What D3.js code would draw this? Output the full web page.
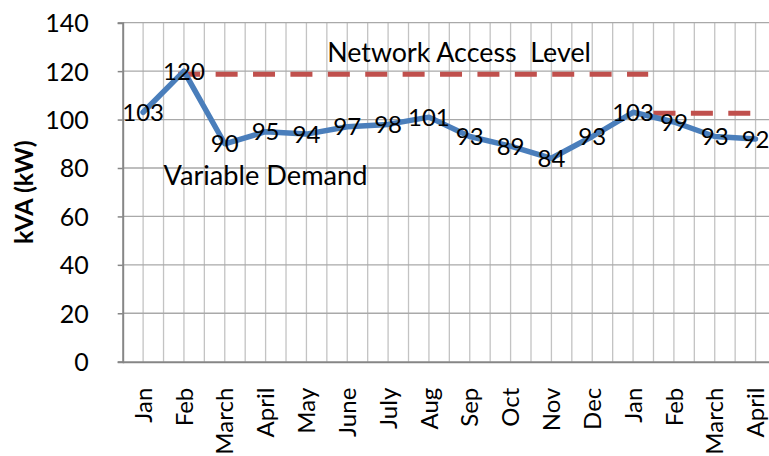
<!DOCTYPE html>
<html>
<head>
<meta charset="utf-8">
<script src="https://cdn.jsdelivr.net/npm/d3@7"></script>
<style>
  html, body { margin: 0; padding: 0; background: #fff; }
  svg { display: block; }
  text { font-family: Lato, "Open Sans", sans-serif; fill: #000; }
</style>
</head>
<body>
<svg id="chart" width="769" height="456"></svg>
<script>
// ---- data ----
const months = ["Jan","Feb","March","April","May","June","July","Aug","Sep","Oct","Nov","Dec","Jan","Feb","March","April"];
const demand = [103,120,90,95,94,97,98,101,93,89,84,93,103,99,93,92];
const yTicks = [0,20,40,60,80,100,120,140];
// Network access level segments (start/end in category-index units, value in kVA)
const accessStart = [0.86, 12.5];
const accessEnd   = [12.37, 14.88];
const accessValue = [118.7, 102.6];
const yTitle = "kVA (kW)";
const accessLabel = "Network Access  Level";
const demandLabel = "Variable Demand";

// ---- layout ----
const W = 769, H = 456;
const mLeft = 122.7, mTop = 22.7, mBottom = 361.7;
const step = 40.83;
const mRight = mLeft + months.length * step;

const svg = d3.select("#chart");

const idx = d3.range(months.length);
const xBand = d3.scaleBand().domain(idx).range([mLeft, mRight]).paddingInner(0).paddingOuter(0);
const xc = d3.scaleLinear().domain([-0.5, months.length - 0.5]).range([mLeft, mRight]);
const y = d3.scaleLinear().domain([0, 140]).range([mBottom, mTop]);

// vertical gridlines at every half category
const vGrid = d3.range(1, months.length * 2 + 1).map(k => -0.5 + k / 2);
svg.append("g").selectAll("line").data(vGrid).join("line")
  .attr("x1", d => xc(d)).attr("x2", d => xc(d))
  .attr("y1", mTop).attr("y2", mBottom)
  .attr("stroke", "#c3c3c3").attr("stroke-width", 1.3);

// horizontal gridlines
svg.append("g").selectAll("line").data(yTicks.filter(t => t > 0)).join("line")
  .attr("x1", mLeft).attr("x2", W)
  .attr("y1", d => y(d)).attr("y2", d => y(d))
  .attr("stroke", "#a9a9a9").attr("stroke-width", 1.3);

// y axis
const yAxis = svg.append("g").attr("transform", `translate(${mLeft},0)`)
  .call(d3.axisLeft(y).tickValues(yTicks).tickSize(5).tickPadding(30));
yAxis.select(".domain").attr("stroke", "#868686").attr("stroke-width", 2);
yAxis.selectAll(".tick line").attr("stroke", "#868686").attr("stroke-width", 1.5);
yAxis.selectAll(".tick text").style("font-size", "25px").attr("dy", "0.36em").attr("x", -34);

// x axis
const xAxis = svg.append("g").attr("transform", `translate(0,${mBottom})`)
  .call(d3.axisBottom(xBand).tickSize(0).tickFormat(i => months[i]));
xAxis.select(".domain").attr("stroke", "#868686").attr("stroke-width", 2)
  .attr("d", `M${mLeft},0.5H${W}`);
xAxis.selectAll(".tick text")
  .style("font-size", "24px")
  .attr("text-anchor", "end")
  .attr("transform", "rotate(-90)")
  .attr("x", -26).attr("y", 0).attr("dy", "0.36em");

// y title
svg.append("text")
  .attr("transform", `translate(24,${y(70)}) rotate(-90)`)
  .attr("text-anchor", "middle").attr("dy", "0.36em")
  .style("font-size", "25px").style("font-weight", "bold")
  .text(yTitle);

// network access level dashed segments
svg.append("g").selectAll("line").data(accessValue).join("line")
  .attr("x1", (d, i) => xc(accessStart[i])).attr("x2", (d, i) => xc(accessEnd[i]))
  .attr("y1", d => y(d)).attr("y2", d => y(d))
  .attr("stroke", "#c0504d").attr("stroke-width", 5)
  .attr("stroke-dasharray", "22 15.4");

// demand line
const line = d3.line().x((d, i) => xc(i)).y(d => y(d));
svg.append("path").datum(demand)
  .attr("d", line).attr("fill", "none")
  .attr("stroke", "#4a7ebb").attr("stroke-width", 5.5)
  .attr("stroke-linejoin", "round").attr("stroke-linecap", "round");

// data labels
svg.append("g").selectAll("text").data(demand).join("text")
  .attr("x", (d, i) => xc(i)).attr("y", d => y(d))
  .attr("text-anchor", "middle").attr("dy", "0.36em")
  .style("font-size", "24px")
  .text(d => d);

// annotations
svg.append("text")
  .attr("x", xc(4.51)).attr("y", y(123.9))
  .style("font-size", "26.8px").style("white-space", "pre")
  .text(accessLabel);
svg.append("text")
  .attr("x", xc(0.5)).attr("y", y(73))
  .style("font-size", "27.2px")
  .text(demandLabel);
</script>
</body>
</html>
